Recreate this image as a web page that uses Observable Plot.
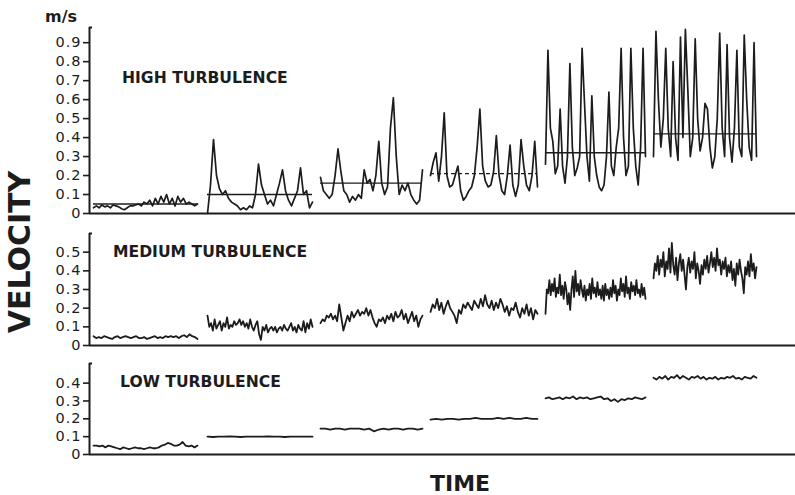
<!DOCTYPE html>
<html><head><meta charset="utf-8">
<script src="https://cdn.jsdelivr.net/npm/d3@7"></script>
<script src="https://cdn.jsdelivr.net/npm/@observablehq/plot@0.6"></script>
<style>
html,body{margin:0;padding:0;background:#fff;}
#chart{position:relative;width:795px;height:495px;font-family:"DejaVu Sans",sans-serif;color:#1c1c1c;overflow:hidden;background:#fff}
#chart svg{position:absolute;left:0;}
.lbl{position:absolute;white-space:nowrap;font-weight:bold;line-height:1;}
#chart svg g[aria-label="y-axis tick label"] text{letter-spacing:1px;}
</style></head><body><div id="chart"></div>
<script>
// time positions of the six recording segments (arbitrary time units)
const segStart = [4, 118, 231, 341, 456, 564];
const segEnd   = [108, 223, 333, 448, 556, 667];

// ---- HIGH TURBULENCE (m/s)
const high1 = [0.03,0.04,0.03,0.045,0.035,0.04,0.03,0.045,0.04,0.035,0.025,0.02,0.03,0.04,0.04,0.045,0.05,0.04,0.06,0.05,0.07,0.04,0.08,0.05,0.09,0.06,0.1,0.05,0.08,0.04,0.09,0.06,0.08,0.05,0.06,0.05,0.04,0.05];
const high2 = [0.0,0.15,0.39,0.2,0.13,0.1,0.12,0.08,0.06,0.05,0.04,0.02,0.03,0.02,0.04,0.03,0.1,0.26,0.15,0.1,0.05,0.07,0.04,0.1,0.16,0.23,0.12,0.07,0.04,0.08,0.12,0.24,0.1,0.12,0.03,0.06];
const high3 = [0.19,0.12,0.1,0.08,0.1,0.2,0.34,0.22,0.12,0.1,0.06,0.09,0.07,0.1,0.08,0.23,0.16,0.18,0.12,0.2,0.38,0.16,0.1,0.14,0.45,0.61,0.3,0.1,0.15,0.12,0.16,0.1,0.07,0.05,0.07,0.23];
const high4 = [0.2,0.27,0.32,0.17,0.3,0.53,0.2,0.14,0.15,0.2,0.25,0.12,0.07,0.09,0.12,0.14,0.2,0.35,0.55,0.25,0.17,0.14,0.15,0.22,0.41,0.2,0.12,0.1,0.2,0.36,0.15,0.09,0.15,0.39,0.25,0.15,0.12,0.2,0.38,0.14];
const high5 = [0.26,0.86,0.45,0.38,0.21,0.25,0.55,0.25,0.16,0.3,0.79,0.35,0.2,0.24,0.3,0.87,0.58,0.3,0.17,0.62,0.3,0.2,0.14,0.12,0.15,0.3,0.64,0.25,0.2,0.35,0.45,0.87,0.4,0.2,0.25,0.87,0.45,0.25,0.15,0.35,0.87,0.3];
const high6 = [0.3,0.96,0.6,0.35,0.5,0.87,0.45,0.3,0.8,0.4,0.28,0.93,0.4,0.97,0.65,0.3,0.4,0.92,0.5,0.33,0.4,0.58,0.55,0.35,0.24,0.3,0.5,0.95,0.45,0.3,0.89,0.4,0.27,0.45,0.86,0.35,0.3,0.94,0.6,0.35,0.28,0.9,0.3];
const highMeans = [0.05, 0.1, 0.16, 0.21, 0.32, 0.42];
const highMeanDashed = [false, false, false, true, false, false];
const highTicks = [0, 0.1, 0.2, 0.3, 0.4, 0.5, 0.6, 0.7, 0.8, 0.9];

// ---- MEDIUM TURBULENCE (m/s)
const med1 = [0.05,0.04,0.045,0.04,0.05,0.045,0.04,0.035,0.045,0.05,0.04,0.045,0.05,0.045,0.04,0.045,0.05,0.04,0.04,0.045,0.035,0.04,0.045,0.05,0.04,0.045,0.04,0.05,0.045,0.05,0.045,0.05,0.04,0.05,0.055,0.045,0.06,0.05,0.045,0.035];
const med2 = [0.16,0.1,0.12,0.08,0.14,0.09,0.11,0.13,0.08,0.12,0.1,0.15,0.09,0.11,0.1,0.13,0.11,0.12,0.14,0.11,0.13,0.1,0.12,0.09,0.14,0.1,0.08,0.11,0.13,0.06,0.03,0.1,0.08,0.11,0.07,0.09,0.1,0.08,0.1,0.07,0.09,0.1,0.08,0.11,0.09,0.08,0.1,0.12,0.08,0.1,0.07,0.11,0.09,0.08,0.13,0.07,0.12,0.09,0.14,0.1];
const med3 = [0.12,0.14,0.13,0.16,0.15,0.17,0.14,0.16,0.13,0.22,0.15,0.08,0.12,0.16,0.13,0.18,0.15,0.17,0.19,0.16,0.18,0.17,0.2,0.16,0.19,0.15,0.12,0.1,0.14,0.13,0.15,0.12,0.16,0.14,0.17,0.13,0.18,0.15,0.16,0.19,0.14,0.17,0.12,0.15,0.18,0.13,0.16,0.1,0.14,0.16];
const med4 = [0.18,0.22,0.2,0.25,0.19,0.23,0.17,0.21,0.24,0.2,0.18,0.16,0.12,0.19,0.17,0.22,0.2,0.23,0.21,0.19,0.24,0.22,0.2,0.25,0.21,0.27,0.22,0.2,0.24,0.19,0.23,0.2,0.25,0.22,0.18,0.21,0.16,0.2,0.19,0.23,0.18,0.15,0.2,0.17,0.22,0.16,0.2,0.14,0.19,0.17];
const med5 = [0.17,0.3,0.28,0.35,0.27,0.33,0.29,0.36,0.26,0.31,0.28,0.38,0.27,0.32,0.25,0.34,0.3,0.22,0.28,0.19,0.3,0.37,0.26,0.4,0.29,0.33,0.27,0.35,0.3,0.26,0.32,0.24,0.3,0.27,0.33,0.25,0.36,0.28,0.31,0.26,0.34,0.27,0.3,0.25,0.32,0.24,0.33,0.27,0.3,0.25,0.31,0.26,0.35,0.28,0.32,0.24,0.3,0.27,0.36,0.29,0.33,0.26,0.37,0.28,0.31,0.25,0.34,0.29,0.32,0.27,0.35,0.28,0.3,0.26,0.33,0.27,0.31,0.25];
const med6 = [0.36,0.44,0.4,0.48,0.38,0.46,0.42,0.5,0.37,0.45,0.41,0.52,0.39,0.55,0.43,0.38,0.47,0.35,0.44,0.49,0.4,0.46,0.38,0.3,0.42,0.47,0.39,0.45,0.41,0.5,0.36,0.44,0.4,0.33,0.43,0.38,0.46,0.41,0.48,0.39,0.44,0.5,0.42,0.47,0.4,0.52,0.43,0.46,0.38,0.45,0.41,0.47,0.37,0.43,0.39,0.45,0.35,0.41,0.32,0.44,0.38,0.46,0.4,0.36,0.28,0.42,0.38,0.45,0.37,0.49,0.4,0.44,0.36,0.42];
const medTicks = [0, 0.1, 0.2, 0.3, 0.4, 0.5];

// ---- LOW TURBULENCE (m/s)
const low1 = [0.05,0.05,0.045,0.05,0.04,0.05,0.045,0.04,0.035,0.03,0.04,0.035,0.03,0.035,0.04,0.035,0.035,0.03,0.035,0.04,0.035,0.035,0.04,0.05,0.055,0.065,0.06,0.05,0.05,0.055,0.07,0.05,0.045,0.05,0.04,0.05];
const low2 = [0.1,0.098,0.1,0.1,0.102,0.1,0.098,0.1,0.1,0.1,0.1,0.102,0.1,0.1,0.098,0.1,0.1,0.1,0.1,0.1];
const low3 = [0.145,0.145,0.14,0.145,0.145,0.14,0.145,0.145,0.145,0.14,0.145,0.13,0.14,0.145,0.14,0.145,0.145,0.14,0.145,0.145,0.14,0.145];
const low4 = [0.195,0.2,0.195,0.2,0.2,0.195,0.2,0.2,0.205,0.2,0.2,0.2,0.205,0.2,0.205,0.2,0.2,0.205,0.2,0.2];
const low5 = [0.315,0.32,0.31,0.315,0.32,0.31,0.32,0.315,0.325,0.31,0.32,0.315,0.32,0.31,0.315,0.32,0.325,0.31,0.315,0.3,0.31,0.295,0.31,0.305,0.315,0.31,0.32,0.315,0.31,0.32];
const low6 = [0.43,0.42,0.435,0.425,0.44,0.42,0.435,0.43,0.445,0.425,0.44,0.43,0.42,0.435,0.43,0.44,0.425,0.435,0.42,0.43,0.425,0.435,0.42,0.43,0.425,0.435,0.43,0.44,0.425,0.43,0.42,0.435,0.43,0.425,0.44,0.43];
const lowTicks = [0, 0.1, 0.2, 0.3, 0.4];

const panelTitles = ["HIGH TURBULENCE", "MEDIUM TURBULENCE", "LOW TURBULENCE"];
const unitLabel = "m/s";
const yTitle = "VELOCITY";
const xTitle = "TIME";

function rowsFrom(segs) {
  const rows = [];
  segs.forEach((vals, s) => {
    const n = vals.length;
    vals.forEach((v, i) => rows.push({seg: s, t: segStart[s] + (segEnd[s] - segStart[s]) * i / (n - 1), v}));
  });
  return rows;
}

const INK = "#1c1c1c";
const fmt = d => d === 0 ? "0" : d.toFixed(1);

function panel({segs, ticks, yMax, height, marginTop, marginBottom, means, dashed, lineWidth}) {
  const rows = rowsFrom(segs);
  const marks = [
    Plot.axisY({ticks, tickFormat: fmt, tickSize: 6, tickPadding: 2, label: null, fontSize: 14.5, stroke: INK, strokeWidth: 1.6, fill: INK}),
    Plot.ruleX([0], {y1: 0, y2: yMax, stroke: INK, strokeWidth: 2}),
    Plot.ruleY([yMax], {x1: 0, x2: 3, stroke: INK, strokeWidth: 2}),
    Plot.ruleY([0], {stroke: INK, strokeWidth: 2.2}),
    Plot.line(rows, {x: "t", y: "v", z: "seg", stroke: INK, strokeWidth: lineWidth, curve: "linear", strokeLinejoin: "round"})
  ];
  if (means) {
    const mrows = means.map((v, s) => ({v, t1: segStart[s], t2: segEnd[s], dashed: dashed[s]}));
    marks.push(Plot.ruleY(mrows.filter(d => !d.dashed), {y: "v", x1: "t1", x2: "t2", stroke: INK, strokeWidth: 1.3}));
    marks.push(Plot.ruleY(mrows.filter(d => d.dashed), {y: "v", x1: "t1", x2: "t2", stroke: INK, strokeWidth: 1.3, strokeDasharray: "4,3"}));
  }
  return Plot.plot({
    width: 795, height, marginLeft: 89, marginRight: 0, marginTop, marginBottom,
    x: {domain: [0, 706], axis: null},
    y: {domain: [0, yMax], axis: null},
    style: {fontFamily: "'DejaVu Sans', sans-serif", fontSize: "14px", color: INK, background: "transparent", overflow: "visible"},
    marks
  });
}

const chart = document.getElementById("chart");
const p1 = panel({segs: [high1, high2, high3, high4, high5, high6], ticks: highTicks, yMax: 0.98, height: 225, marginTop: 27, marginBottom: 12, means: highMeans, dashed: highMeanDashed, lineWidth: 1.7});
p1.style.top = "0px";
const p2 = panel({segs: [med1, med2, med3, med4, med5, med6], ticks: medTicks, yMax: 0.6, height: 130, marginTop: 8, marginBottom: 10, lineWidth: 1.8});
p2.style.top = "225px";
const p3 = panel({segs: [low1, low2, low3, low4, low5, low6], ticks: lowTicks, yMax: 0.51, height: 110, marginTop: 8, marginBottom: 11, lineWidth: 1.8});
p3.style.top = "355px";
chart.append(p1, p2, p3);

function label(text, css) {
  const d = document.createElement("div");
  d.className = "lbl";
  d.textContent = text;
  Object.assign(d.style, css);
  chart.append(d);
  return d;
}
label(unitLabel, {left: "45px", top: "9px", fontSize: "16px"});
label(panelTitles[0], {left: "122px", top: "71px", fontSize: "15.6px"});
label(panelTitles[1], {left: "113px", top: "245px", fontSize: "15.6px"});
label(panelTitles[2], {left: "120px", top: "375px", fontSize: "15.6px"});
label(xTitle, {left: "430px", top: "475px", fontSize: "22px", lineHeight: "18px"});
label(yTitle, {left: "20px", top: "252px", fontSize: "30px", transform: "translate(-50%,-50%) rotate(-90deg)", transformOrigin: "center"});
</script>
</body></html>
